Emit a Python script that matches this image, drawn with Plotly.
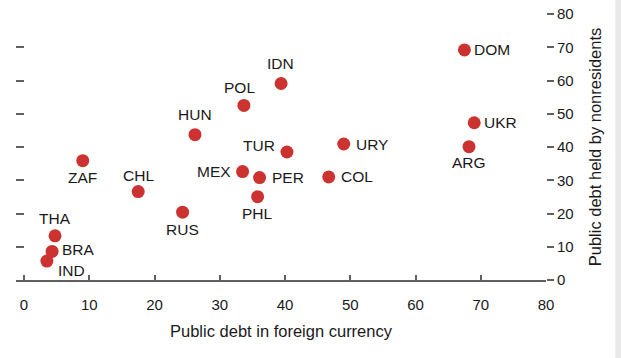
import plotly.graph_objects as go

countries = ["DOM", "UKR", "ARG", "URY", "COL", "IDN", "POL", "HUN", "TUR", "MEX",
             "PER", "ZAF", "CHL", "RUS", "PHL", "THA", "BRA", "IND"]
fx_debt = [67.5, 69.0, 68.2, 49.0, 46.7, 39.4, 33.7, 26.2, 40.3, 33.5,
           36.1, 9.0, 17.5, 24.3, 35.8, 4.75, 4.3, 3.5]
nonres_debt = [69.2, 47.3, 40.1, 40.9, 31.0, 59.1, 52.5, 43.7, 38.5, 32.6,
               30.8, 35.9, 26.6, 20.4, 25.05, 13.3, 8.6, 5.7]
x_ticks = [0, 10, 20, 30, 40, 50, 60, 70, 80]
y_ticks = [0, 10, 20, 30, 40, 50, 60, 70, 80]

# label placement: (xanchor, xshift px, yshift px)
label_pos = {
    "DOM": ("left", 8, 0), "UKR": ("left", 8, 0), "ARG": ("center", 0, -16),
    "URY": ("left", 10, 0), "COL": ("left", 10, 0), "IDN": ("center", -1, 20),
    "POL": ("center", -4, 18), "HUN": ("center", 0, 20), "TUR": ("right", -10, 6),
    "MEX": ("right", -10, 0), "PER": ("left", 10, 0), "ZAF": ("center", 0, -17),
    "CHL": ("center", 0, 16), "RUS": ("center", 0, -17), "PHL": ("center", 0, -17),
    "THA": ("center", 0, 17), "BRA": ("left", 8, 2), "IND": ("left", 9, -9),
}

FONT = "Liberation Sans, Arial, sans-serif"
TXT = "#1a1a1a"
AX = "#606060"

fig = go.Figure()
fig.add_trace(go.Scatter(
    x=fx_debt, y=nonres_debt, mode="markers",
    marker=dict(size=13, color="#cc3330", line=dict(width=0)),
    hoverinfo="text", text=countries, showlegend=False,
))
# invisible trace on the left mirror axis
fig.add_trace(go.Scatter(x=[None], y=[None], yaxis="y2", showlegend=False))

for c, xv, yv in zip(countries, fx_debt, nonres_debt):
    xa, xs, ys = label_pos[c]
    fig.add_annotation(x=xv, y=yv, text=c, showarrow=False, xanchor=xa, yanchor="middle",
                       xshift=xs, yshift=ys, font=dict(family=FONT, size=15.5, color=TXT))

fig.update_layout(
    width=621, height=358,
    margin=dict(l=16, r=75, t=14, b=78, autoexpand=False),
    paper_bgcolor="white", plot_bgcolor="white",
    font=dict(family=FONT, size=15, color=TXT),
    xaxis=dict(
        range=[-1.23, 80], tickvals=x_ticks, ticktext=[str(v) for v in x_ticks],
        ticks="inside", ticklen=5, tickwidth=1.5, tickcolor=AX, automargin=False,
        ticklabelstandoff=10, ticklabeloverflow="allow",
        showline=True, linecolor=AX, linewidth=2, showgrid=False, zeroline=False,
        tickfont=dict(family=FONT, size=15, color=TXT),
        title=dict(text="Public debt in foreign currency", standoff=13,
                   font=dict(family=FONT, size=16.5, color=TXT)),
    ),
    yaxis=dict(
        range=[0, 80], side="right", tickvals=y_ticks, ticktext=[str(v) for v in y_ticks],
        ticks="outside", ticklen=7, tickwidth=1.5, tickcolor=AX, automargin=False,
        ticklabeloverflow="allow",
        showline=False, showgrid=False, zeroline=False,
        tickfont=dict(family=FONT, size=15, color=TXT),
        title=dict(text="Public debt held by nonresidents", standoff=16,
                   font=dict(family=FONT, size=16.5, color=TXT)),
    ),
    yaxis2=dict(
        range=[0, 80], overlaying="y", side="left", tickvals=y_ticks[1:],
        ticks="inside", ticklen=8, tickwidth=1.5, tickcolor=AX, automargin=False,
        showticklabels=False, showline=False, showgrid=False, zeroline=False,
    ),
    shapes=[dict(type="rect", xref="paper", yref="paper", x0=1.131, x1=1.3, y0=-0.5, y1=1.5,
                 fillcolor="#e9e9e9", line=dict(width=0), layer="above")],
)

# remove the browser's default 8px body margin so the figure sits at the page origin
fig.write_html("out.html", config={"displayModeBar": False},
               post_script="document.body.style.margin='0';")
